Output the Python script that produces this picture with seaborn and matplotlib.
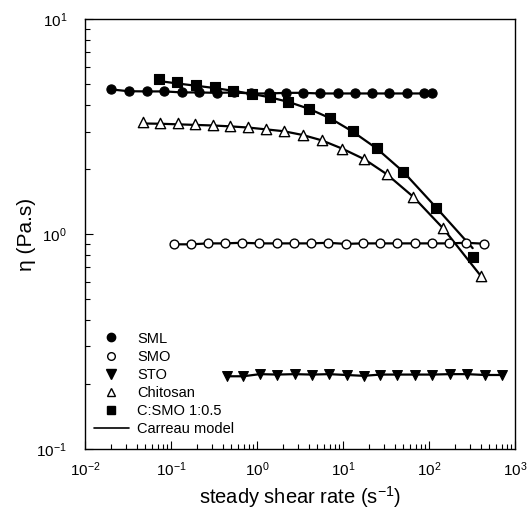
import matplotlib
matplotlib.use("Agg")
import matplotlib.pyplot as plt
from matplotlib.lines import Line2D
import seaborn as sns

# shear rate (1/s) and viscosity (Pa.s)
sml_x = [0.020, 0.032, 0.052, 0.083, 0.135, 0.21, 0.34, 0.54, 0.85, 1.38,
         2.19, 3.39, 5.37, 8.7, 13.8, 21.9, 33.9, 55, 87, 107]
sml_y = [4.71, 4.62, 4.61, 4.61, 4.56, 4.56, 4.54, 4.56, 4.51, 4.51,
         4.54, 4.54, 4.51, 4.51, 4.51, 4.51, 4.51, 4.51, 4.51, 4.51]

smo_x = [0.108, 0.172, 0.269, 0.421, 0.664, 1.06, 1.69, 2.69, 4.28, 6.70,
         10.7, 16.9, 26.9, 42.8, 68.7, 108, 172, 269, 433]
smo_y = [0.896, 0.896, 0.905, 0.905, 0.911, 0.905, 0.905, 0.905, 0.905, 0.911,
         0.900, 0.905, 0.905, 0.905, 0.905, 0.905, 0.905, 0.911, 0.902]

sto_x = [0.45, 0.69, 1.08, 1.72, 2.73, 4.37, 6.93, 11.0, 17.4, 27.2,
         42.8, 68.2, 109, 175, 279, 445, 700]
sto_y = [0.218, 0.218, 0.223, 0.222, 0.223, 0.222, 0.223, 0.221, 0.219, 0.222,
         0.222, 0.222, 0.222, 0.223, 0.223, 0.221, 0.221]

chi_x = [0.0469, 0.0752, 0.120, 0.192, 0.307, 0.490, 0.792, 1.27, 2.04, 3.40,
         5.65, 9.73, 17.7, 32.2, 65.7, 147, 399]
chi_y = [3.31, 3.29, 3.27, 3.25, 3.21, 3.18, 3.135, 3.07, 3.03, 2.89,
         2.74, 2.50, 2.23, 1.90, 1.49, 1.063, 0.638]
chi_fit = [3.27, 3.26, 3.24, 3.22, 3.20, 3.17, 3.13, 3.07, 3.01, 2.89,
           2.73, 2.50, 2.23, 1.90, 1.49, 1.06, 0.64]

csmo_x = [0.0731, 0.118, 0.194, 0.321, 0.526, 0.863, 1.40, 2.32, 4.06, 7.06,
          12.9, 24.7, 50.2, 121, 322]
csmo_y = [5.26, 5.08, 4.95, 4.81, 4.64, 4.48, 4.35, 4.12, 3.81, 3.47,
          3.01, 2.52, 1.94, 1.317, 0.779]
csmo_fit = [5.15, 5.02, 4.90, 4.78, 4.64, 4.49, 4.33, 4.12, 3.82, 3.46,
            3.00, 2.50, 1.95, 1.33, 0.86]

sns.set_style("ticks")
plt.rcParams['font.family'] = ['Liberation Sans', 'DejaVu Sans']
plt.rcParams['mathtext.fontset'] = 'custom'
plt.rcParams['mathtext.rm'] = 'Liberation Sans'
plt.rcParams['mathtext.it'] = 'Liberation Sans:italic'
plt.rcParams['text.color'] = 'black'
plt.rcParams['axes.labelcolor'] = 'black'
plt.rcParams['xtick.color'] = 'black'
plt.rcParams['ytick.color'] = 'black'
plt.rcParams['axes.edgecolor'] = 'black'

fig = plt.figure(figsize=(5.32, 5.17), dpi=100)
ax = fig.add_axes([0.160, 0.1315, 0.808, 0.8315])

lw = 1.6
# Carreau model / connecting lines
for x, y in [(sml_x, sml_y), (smo_x, smo_y), (sto_x, sto_y),
             (chi_x, chi_fit), (csmo_x, csmo_fit)]:
    sns.lineplot(x=x, y=y, ax=ax, color='black', linewidth=lw,
                 sort=False, estimator=None, zorder=2)

# measured points
sns.scatterplot(x=sml_x, y=sml_y, ax=ax, marker='o', s=44, color='black',
                edgecolor='black', linewidth=0.8, zorder=3)
sns.scatterplot(x=smo_x, y=smo_y, ax=ax, marker='o', s=40, facecolor='white',
                edgecolor='black', linewidth=1.0, zorder=3)
sns.scatterplot(x=sto_x, y=sto_y, ax=ax, marker='v', s=50, color='black',
                edgecolor='black', linewidth=0.8, zorder=3)
sns.scatterplot(x=chi_x, y=chi_y, ax=ax, marker='^', s=55, facecolor='white',
                edgecolor='black', linewidth=1.0, zorder=3)
sns.scatterplot(x=csmo_x, y=csmo_y, ax=ax, marker='s', s=48, color='black',
                edgecolor='black', linewidth=0.8, zorder=3)

ax.set_xscale('log')
ax.set_yscale('log')
ax.set_xlim(1e-2, 1e3)
ax.set_ylim(1e-1, 1e1)
ax.set_xlabel('steady shear rate (s$^{-1}$)', fontsize=14.5, labelpad=4)
ax.set_ylabel('η (Pa.s)', fontsize=15, labelpad=0)
ax.tick_params(which='both', direction='in', top=False, right=False,
               labelsize=11, width=0.8)
ax.tick_params(which='major', length=6)
ax.tick_params(axis='x', which='major', pad=8)
ax.tick_params(axis='y', which='major', pad=13)
ax.tick_params(which='minor', length=3.5)
for sp in ax.spines.values():
    sp.set_linewidth(1.0)

handles = [
    Line2D([], [], marker='o', ls='none', color='black', markersize=6),
    Line2D([], [], marker='o', ls='none', mfc='white', mec='black', markersize=5.5),
    Line2D([], [], marker='v', ls='none', color='black', markersize=6.5),
    Line2D([], [], marker='^', ls='none', mfc='white', mec='black', markersize=6),
    Line2D([], [], marker='s', ls='none', color='black', markersize=5.5),
    Line2D([], [], color='black', linewidth=1.2),
]
labels = ['SML', 'SMO', 'STO', 'Chitosan', 'C:SMO 1:0.5', 'Carreau model']
ax.legend(handles, labels, loc='lower left', bbox_to_anchor=(0.0, 0.01),
          frameon=False, fontsize=10.5, handlelength=2.4, handletextpad=0.55,
          labelspacing=0.28, borderaxespad=0.2)

fig.savefig('out.png', dpi=100)
